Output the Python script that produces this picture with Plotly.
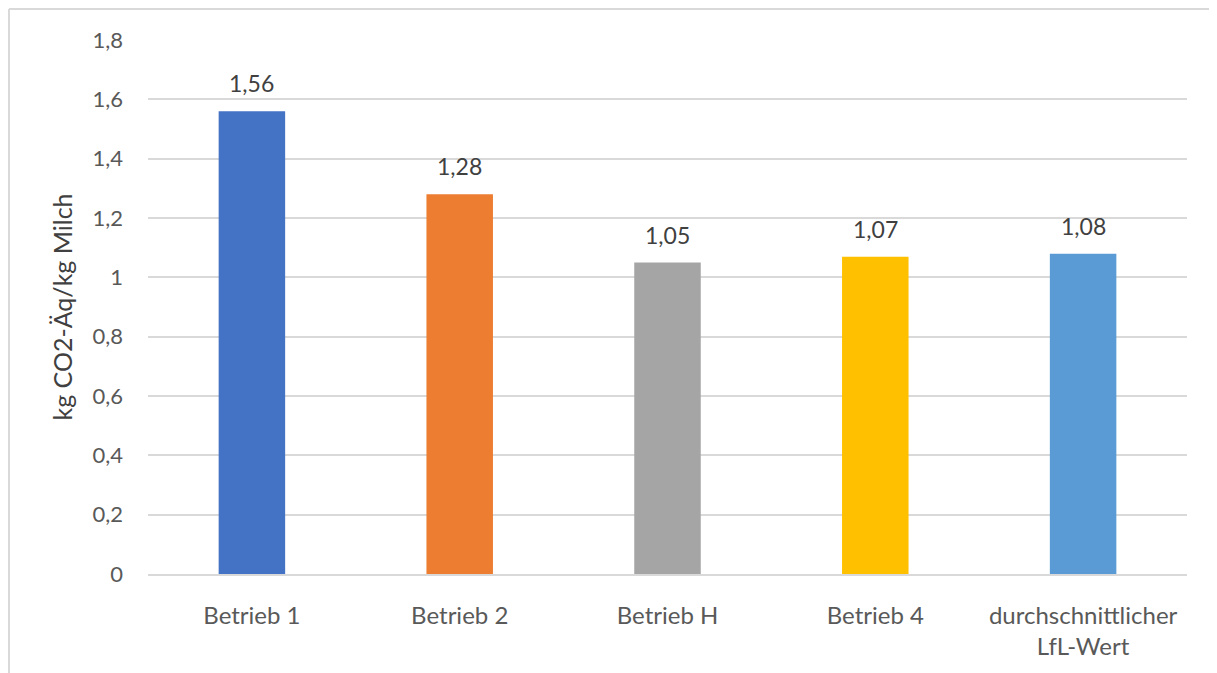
import plotly.graph_objects as go

categories = ["Betrieb 1", "Betrieb 2", "Betrieb H", "Betrieb 4", "durchschnittlicher<br>LfL-Wert"]
values = [1.56, 1.28, 1.05, 1.07, 1.08]
bar_colors = ["#4472C4", "#ED7D31", "#A5A5A5", "#FFC000", "#5B9BD5"]
tick_vals = [0, 0.2, 0.4, 0.6, 0.8, 1.0, 1.2, 1.4, 1.6, 1.8]
tick_text = ["0", "0,2", "0,4", "0,6", "0,8", "1", "1,2", "1,4", "1,6", "1,8"]
y_title = "kg CO2-Äq/kg Milch"

labels = [f"{v:.2f}".replace(".", ",") for v in values]

W, H = 1209, 665
L, R, T, B = 140, 30, 32, 99
PW, PH = W - L - R, H - T - B

fig = go.Figure(go.Bar(
    x=categories, y=values, marker=dict(color=bar_colors, line=dict(width=0)),
    width=0.32, hoverinfo="x+y",
))

for c, v, t in zip(categories, values, labels):
    fig.add_annotation(x=c, y=v, text=t, showarrow=False, yanchor="middle", yshift=28,
                       font=dict(family="Lato", size=23, color="#404040"))

fig.update_layout(
    width=W, height=H,
    margin=dict(l=L, r=R, t=T, b=B),
    plot_bgcolor="white", paper_bgcolor="white",
    font=dict(family="Lato", size=21, color="#595959"),
    showlegend=False,
)
fig.update_xaxes(showgrid=False, showline=True, linecolor="#D9D9D9", linewidth=1.5, automargin=False,
                 ticks="", ticklabelstandoff=19, tickfont=dict(size=24, color="#595959"))
fig.update_yaxes(range=[0, 1.8005], tickvals=tick_vals, ticktext=tick_text, automargin=False,
                 showgrid=True, gridcolor="#D9D9D9", gridwidth=1.5, zeroline=False,
                 ticks="", ticklabelstandoff=24, tickfont=dict(size=22, color="#595959"),
                 title=dict(text=y_title, font=dict(size=25, color="#404040"), standoff=12))

# outer chart border (light gray): top and left edges
x_left = -(L - 1) / PW
y_top = 1 + (T - 1) / PH
fig.add_shape(type="line", xref="paper", yref="paper", x0=x_left, x1=1 + (R + 10) / PW,
              y0=y_top, y1=y_top, line=dict(color="#D9D9D9", width=2))
fig.add_shape(type="line", xref="paper", yref="paper", x0=x_left, x1=x_left,
              y0=-(B + 10) / PH, y1=y_top, line=dict(color="#D9D9D9", width=2))

fig.write_html("out.html")
